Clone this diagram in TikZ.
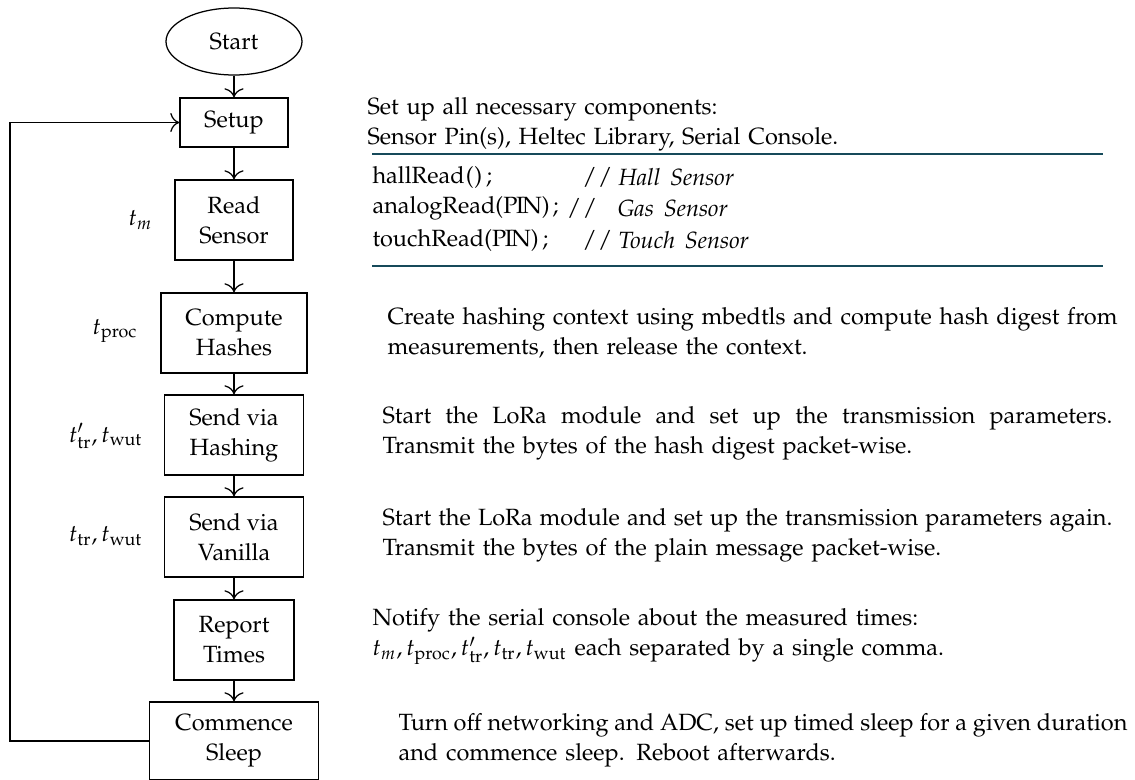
\documentclass[tikz,border=0pt]{standalone}
\usepackage[T1]{fontenc}
\usepackage{mathpazo}
\usetikzlibrary{shapes.geometric, arrows.meta}
\definecolor{ruleteal}{RGB}{22,74,90}
\tikzset{
  every node/.style={font=\fontsize{9.4}{12}\selectfont},
  flowbox/.style={draw, line width=0.5pt, align=center, inner sep=0pt, minimum height=32pt},
  terminal/.style={draw, line width=0.5pt, ellipse, inner sep=0pt, minimum width=54.4pt, minimum height=26.8pt},
  flowarrow/.style={-{To[scale=1.35]}, line width=0.5pt},
  timelabel/.style={anchor=east, inner sep=0pt},
  note/.style={anchor=west, inner sep=0pt, align=left, text width=292pt},
  codeline/.style={anchor=west, inner sep=0pt},
  tealrule/.style={draw=ruleteal, line width=0.9pt}
}
% a justified first line: spaces shrink or stretch to fill the line
\newcommand{\fullline}[1]{{\spaceskip=0.15em plus 1fil\relax\makebox[\linewidth][s]{#1}}}
\begin{document}
\begin{tikzpicture}[x=0.4pt, y=-0.4pt]
\useasboundingbox (0,0) rectangle (1135,780);

% flow chart
\node[terminal] (start) at (234,41.5) {Start};
\node[flowbox, minimum width=43.2pt, minimum height=19.6pt] (setup) at (234,122.5) {Setup};
\node[flowbox, minimum width=47.2pt] (read) at (234,220) {Read\\Sensor};
\node[flowbox, minimum width=58.4pt] (hashes) at (234,333) {Compute\\Hashes};
\node[flowbox, minimum width=55.6pt] (sendhash) at (234,435) {Send via\\Hashing};
\node[flowbox, minimum width=55.6pt] (sendplain) at (234,537) {Send via\\Vanilla};
\node[flowbox, minimum width=48pt] (report) at (234,640) {Report\\Times};
\node[flowbox, minimum width=67.6pt, minimum height=31.2pt] (sleep) at (234,741) {Commence\\Sleep};

\draw[flowarrow] (start) -- (setup);
\draw[flowarrow] (setup) -- (read);
\draw[flowarrow] (read) -- (hashes);
\draw[flowarrow] (hashes) -- (sendhash);
\draw[flowarrow] (sendhash) -- (sendplain);
\draw[flowarrow] (sendplain) -- (report);
\draw[flowarrow] (report) -- (sleep);

% loop back to setup
\coordinate (loopx) at (10,0);
\draw[flowarrow] (sleep.west) -- (loopx |- sleep.west) |- (setup.west);

% measured times
\node[timelabel] (lm) at (153,220) {$t_m$};
\node[timelabel] (lproc) at (138,331) {$t_{\mathrm{proc}}$};
\node[timelabel] (lhash) at (143,436) {$t'_{\mathrm{tr}}, t_{\mathrm{wut}}$};
\node[timelabel] (lplain) at (143,536) {$t_{\mathrm{tr}}, t_{\mathrm{wut}}$};

% descriptions
\node[note] (dsetup) at (367,124) {Set up all necessary components:\\Sensor Pin(s), Heltec Library, Serial Console.};

\coordinate (ruleA) at (372,154);
\coordinate (ruleB) at (1103,154);
\coordinate (ruleC) at (372,266);
\coordinate (ruleD) at (1103,266);
\draw[tealrule] (ruleA) -- (ruleB);
\draw[tealrule] (ruleC) -- (ruleD);

\node[codeline] (c1) at (372,177) {hallRead\kern0.5pt(\kern0.3pt)\kern1.5pt;};
\node[codeline] (c2) at (372,208) {analogRead(P\kern-0.6ptI\kern-0.6ptN)\kern1.2pt;};
\node[codeline] (c3) at (372,240) {touchRead(P\kern-0.6ptI\kern-0.6ptN)\kern1.5pt;};
\node[codeline] (s1) at (582,177) {/\kern0.6pt/};
\node[codeline, xshift=3pt] (s2) at (c2.east) {/\kern0.6pt/};
\node[codeline] (s3) at (582,240) {/\kern0.6pt/};
\node[codeline] (k1) at (618,177) {\textit{Hall\ \,Sensor}};
\node[codeline] (k2) at (617,208) {\textit{Gas\ \,Sensor}};
\node[codeline] (k3) at (618,240) {\textit{Touch\ \,Sensor}};

\node[note] (dhash) at (387,332.5) {\fullline{Create hashing context using mbedtls and compute hash digest from}\\measurements, then release the context.};
\node[note] (dsendh) at (382,433) {\fullline{Start the LoRa module and set up the transmission parameters.}\\Transmit the bytes of the hash digest packet-wise.};
\node[note] (dsendv) at (382,535) {\fullline{Start the LoRa module and set up the transmission parameters again.}\\Transmit the bytes of the plain message packet-wise.};
\node[note] (dreport) at (372,636.5) {Notify the serial console about the measured times:\\$t_m, t_{\mathrm{proc}}, t'_{\mathrm{tr}}, t_{\mathrm{tr}}, t_{\mathrm{wut}}$ each separated by a single comma.};
\node[note, text width=291.6pt] (dsleep) at (398,740) {\fullline{Turn off networking and ADC, set up timed sleep for a given duration}\\and commence sleep. Reboot afterwards.};
\end{tikzpicture}
\end{document}
